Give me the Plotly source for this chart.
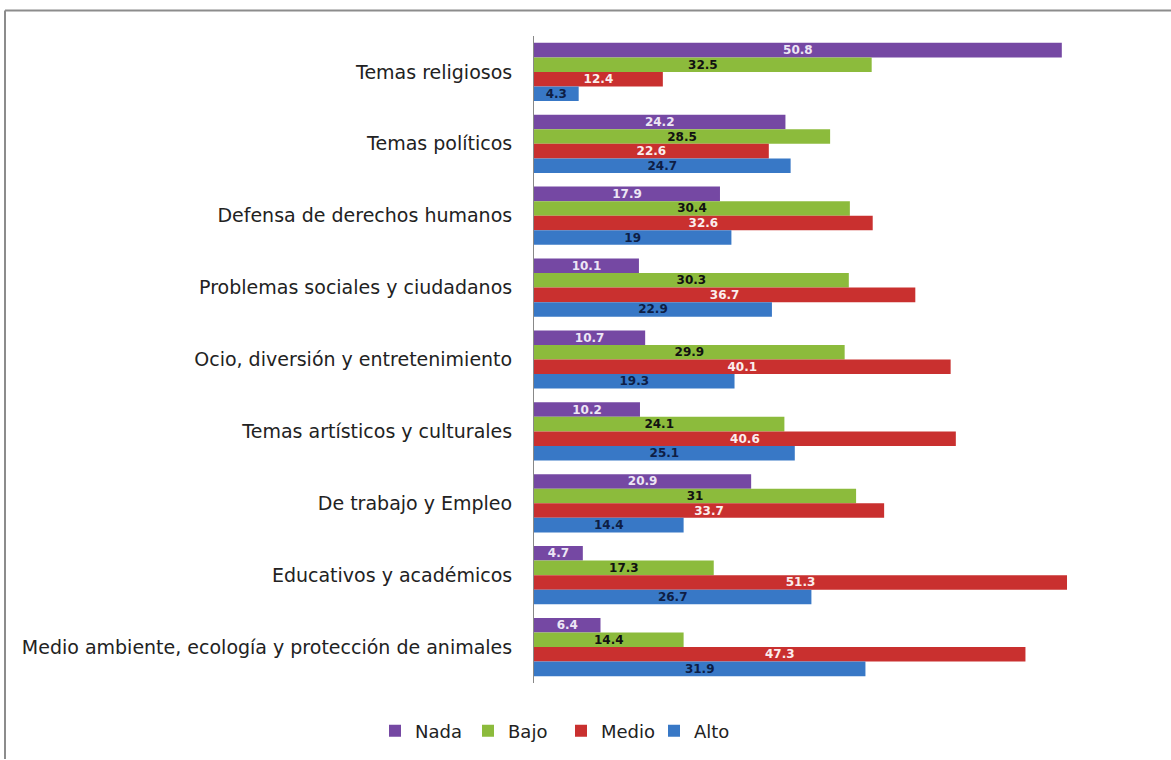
import plotly.graph_objects as go

categories = [
    "Temas religiosos",
    "Temas políticos",
    "Defensa de derechos humanos",
    "Problemas sociales y ciudadanos",
    "Ocio, diversión y entretenimiento",
    "Temas artísticos y culturales",
    "De trabajo y Empleo",
    "Educativos y académicos",
    "Medio ambiente, ecología y protección de animales",
]
nada = [50.8, 24.2, 17.9, 10.1, 10.7, 10.2, 20.9, 4.7, 6.4]
bajo = [32.5, 28.5, 30.4, 30.3, 29.9, 24.1, 31, 17.3, 14.4]
medio = [12.4, 22.6, 32.6, 36.7, 40.1, 40.6, 33.7, 51.3, 47.3]
alto = [4.3, 24.7, 19, 22.9, 19.3, 25.1, 14.4, 26.7, 31.9]

series = [
    ("Nada", nada, "#7548A3", "#EDE6F5"),
    ("Bajo", bajo, "#8CBB3C", "#111111"),
    ("Medio", medio, "#C9302F", "#FBEDED"),
    ("Alto", alto, "#3878C6", "#0E1E45"),
]

W, H = 1171, 760
L, R, T, B = 534, 14, 36, 76

fig = go.Figure()
for name, vals, color, tcolor in series:
    fig.add_trace(go.Bar(
        y=categories, x=vals, name=name, orientation="h",
        marker=dict(color=color, line=dict(width=0)),
        text=[str(v) for v in vals],
        textposition="inside", insidetextanchor="middle",
        constraintext="none", textangle=0,
        textfont=dict(family="DejaVu Sans, sans-serif", size=12, color=tcolor, weight="bold"),
    ))

pw = W - L - R
ph = H - T - B
def px(x):
    return (x - L) / pw
def py(y):
    return (H - B - y) / ph

fig.update_layout(
    width=W, height=H,
    margin=dict(l=L, r=R, t=T, b=B),
    barmode="group", bargap=0.19, bargroupgap=0,
    plot_bgcolor="white", paper_bgcolor="white",
    font=dict(family="DejaVu Sans, sans-serif", size=19, color="#222222"),
    xaxis=dict(range=[0, pw / 10.39], showgrid=False, zeroline=False,
               showticklabels=False, showline=False, ticks=""),
    yaxis=dict(autorange="reversed", showgrid=False, zeroline=False,
               showline=True, linecolor="#888888", linewidth=1,
               ticks="", ticklabelstandoff=17,
               tickfont=dict(family="DejaVu Sans, sans-serif", size=19, color="#222222")),
    legend=dict(orientation="h", x=px(561), xanchor="center", y=py(731), yanchor="middle",
                font=dict(size=18, color="#222222"), itemwidth=30, traceorder="normal",
                entrywidth=48, entrywidthmode="pixels"),
    showlegend=True,
    shapes=[
        dict(type="line", xref="paper", yref="paper", x0=px(5), x1=px(1171), y0=py(10.5), y1=py(10.5),
             line=dict(color="#8C8C8C", width=2)),
        dict(type="line", xref="paper", yref="paper", x0=px(5), x1=px(5), y0=py(10.5), y1=py(760),
             line=dict(color="#8C8C8C", width=2)),
    ],
)

fig.write_html("out.html", config={"displayModeBar": False},
               post_script="document.body.style.margin='0';document.body.style.padding='0';")
